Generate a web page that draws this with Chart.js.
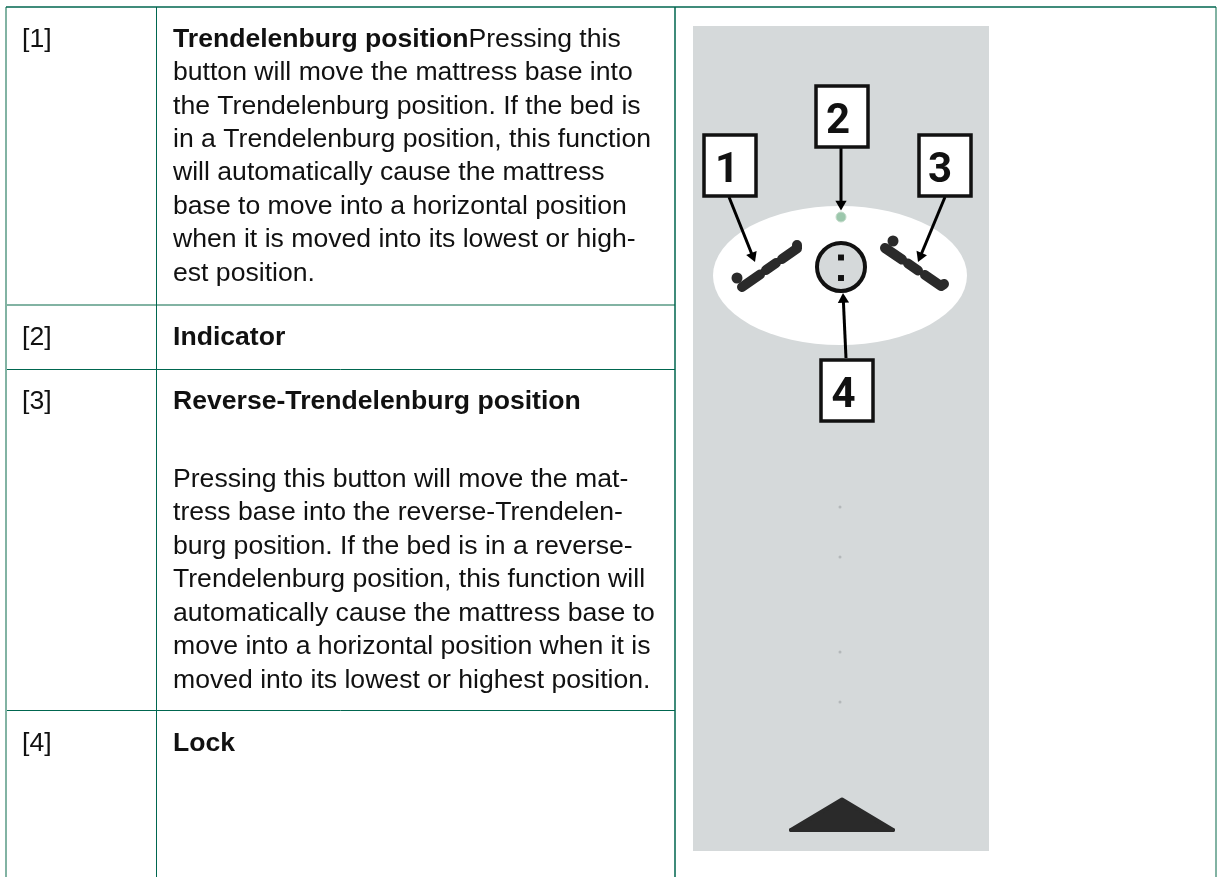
<!DOCTYPE html>
<html lang="en">

<head>
    <meta charset="UTF-8">
    <title>Trendelenburg controls</title>
    <script src="https://cdn.jsdelivr.net/npm/chart.js"></script>
    <style>
        html, body { margin: 0; background: #fff; overflow: hidden; }
        canvas { display: block; }
    </style>
</head>

<body>
    <canvas id="chart" width="1219" height="877"></canvas>

    <script>
        // table
        const colX = [6, 156.5, 675, 1216];
        const rowY = [7, 305, 369.5, 710.5, 877];
        const itemLabels = ['[1]', '[2]', '[3]', '[4]'];
        const itemBaselines = [47, 345, 409, 751];

        const headings = ['Trendelenburg position', 'Indicator', 'Reverse-Trendelenburg position', 'Lock'];
        const headingBaselines = [47, 345, 409, 751];

        const firstLineTail = 'Pressing this';
        const row1Lines = [
            'button will move the mattress base into',
            'the Trendelenburg position. If the bed is',
            'in a Trendelenburg position, this function',
            'will automatically cause the mattress',
            'base to move into a horizontal position',
            'when it is moved into its lowest or high-',
            'est position.'
        ];
        const row1Baselines = [80, 114, 147, 180, 214, 247, 281];
        const row3Lines = [
            'Pressing this button will move the mat-',
            'tress base into the reverse-Trendelen-',
            'burg position. If the bed is in a reverse-',
            'Trendelenburg position, this function will',
            'automatically cause the mattress base to',
            'move into a horizontal position when it is',
            'moved into its lowest or highest position.'
        ];
        const row3Baselines = [487, 520, 554, 587, 621, 654, 688];

        // panel picture
        const panelX = [693, 989];
        const panelY = [26, 851];
        const ellipseCentre = [840, 275.5];
        const ellipseRadii = [127, 69.5];
        const faintDots = [[840, 507], [840, 557], [840, 652], [840, 702]];
        const upTriangle = [[791, 830], [842, 799.5], [893, 830]];
        const indicatorDot = [[841, 217]];
        const lockCircle = [[841, 267]];
        const lockDots = [[841, 257.5], [841, 278]];

        const boxNumbers = ['1', '2', '3', '4'];
        const boxLeft = [704, 816, 919, 821];
        const boxTop = [135, 86, 135, 360];
        const digitX = [727, 838, 940, 843.5];
        const digitBaseline = [182, 133, 182, 407];
        const boxWidth = 52;
        const boxHeight = 61;

        const arrowPaths = [
            [[729, 197], [752.6, 256]],
            [[841, 148], [841, 204]],
            [[945, 197], [920.5, 256]],
            [[846, 358], [843.3, 299.5]]
        ];

        const bedHeads = [[737, 278], [893, 241]];
        const bedLeft = [[742, 287], [760, 274.5], null, [766, 270], [776, 263], null, [782, 259], [797, 248.5], [797, 245]];
        const bedRight = [[885, 248], [902, 259.5], null, [908, 263.5], [918, 270.5], null, [925, 275], [941, 286], [944, 284]];

        const GREEN = '#00664f';
        const GREEN_EDGE = '#82b3a3';
        const PANEL = '#d5d9da';
        const INK = '#111111';
        const ICON = '#2a2a2a';
        const FONT = '"Liberation Sans", Arial, sans-serif';

        const pts = list => list.map(p => p ? { x: p[0], y: p[1] } : { x: null, y: null });

        function rule(a, b, color, width) {
            return {
                data: pts([a, b]), showLine: true, borderColor: color, borderWidth: width,
                pointRadius: 0, order: 5
            };
        }

        function arrow(path) {
            const dx = path[1][0] - path[0][0];
            const dy = path[1][1] - path[0][1];
            return {
                data: pts(path), showLine: true, borderColor: '#000', borderWidth: 3,
                pointStyle: 'triangle', pointRadius: [0, 6.5], pointRotation: Math.atan2(dx, -dy) * 180 / Math.PI,
                pointBackgroundColor: '#000', pointBorderColor: '#000', pointBorderWidth: 0, order: 2
            };
        }

        function bed(path) {
            return {
                data: pts(path), showLine: true, borderColor: ICON, borderWidth: 10, borderCapStyle: 'round',
                borderJoinStyle: 'round', spanGaps: false, pointRadius: 0, order: 3
            };
        }

        const datasets = [
            rule([colX[0], rowY[0]], [colX[3], rowY[0]], GREEN, 1.5),
            rule([colX[0], rowY[0]], [colX[0], rowY[4]], GREEN_EDGE, 2),
            rule([colX[3], rowY[0]], [colX[3], rowY[4]], GREEN_EDGE, 2),
            rule([colX[1], rowY[0]], [colX[1], rowY[4]], GREEN, 1),
            rule([colX[2], rowY[0]], [colX[2], rowY[4]], GREEN, 1.5),
            rule([colX[0], rowY[1]], [colX[2], rowY[1]], GREEN_EDGE, 2),
            rule([colX[0], rowY[2]], [colX[2], rowY[2]], GREEN, 1),
            rule([colX[0], rowY[3]], [colX[2], rowY[3]], GREEN, 1),
            {
                data: pts(lockDots), pointStyle: 'rect', pointRadius: 4.2,
                pointBackgroundColor: '#111', pointBorderWidth: 0, order: 1
            },
            ...arrowPaths.map(arrow),
            {
                data: pts(lockCircle), pointRadius: 24, pointBackgroundColor: PANEL,
                pointBorderColor: '#111', pointBorderWidth: 4, order: 3
            },
            {
                data: pts(indicatorDot), pointRadius: 5, pointBackgroundColor: '#9cc7ac',
                pointBorderColor: '#c4dccb', pointBorderWidth: 1, order: 3
            },
            {
                data: pts(bedHeads), pointRadius: 5.5, pointBackgroundColor: ICON, pointBorderWidth: 0, order: 3
            },
            bed(bedLeft),
            bed(bedRight),
            {
                data: pts(faintDots), pointRadius: 1.5, pointBackgroundColor: '#b4b8ba', pointBorderWidth: 0, order: 4
            },
            // base of the triangle, the fill below stops at this line
            {
                data: pts([upTriangle[0], upTriangle[2]]), showLine: true, borderColor: ICON, borderWidth: 4,
                borderCapStyle: 'round', pointRadius: 0, order: 4
            },
            {
                data: pts(upTriangle), showLine: true, borderColor: ICON, borderWidth: 4,
                borderJoinStyle: 'round', borderCapStyle: 'round', backgroundColor: ICON,
                fill: { value: upTriangle[0][1] }, pointRadius: 0, order: 4
            }
        ];

        const picturePlugin = {
            id: 'picture',
            // gray panel and white ellipse go under the datasets
            beforeDatasetsDraw(chart) {
                const { ctx, scales: { x, y } } = chart;
                ctx.save();
                ctx.fillStyle = PANEL;
                ctx.fillRect(x.getPixelForValue(panelX[0]), y.getPixelForValue(panelY[0]),
                    panelX[1] - panelX[0], panelY[1] - panelY[0]);
                ctx.fillStyle = '#fff';
                ctx.beginPath();
                ctx.ellipse(x.getPixelForValue(ellipseCentre[0]), y.getPixelForValue(ellipseCentre[1]),
                    ellipseRadii[0], ellipseRadii[1], 0, 0, Math.PI * 2);
                ctx.fill();
                ctx.restore();
            },
            afterDatasetsDraw(chart) {
                const { ctx, scales: { x, y } } = chart;
                ctx.save();
                ctx.fillStyle = INK;
                ctx.textBaseline = 'alphabetic';

                const regular = '26.6px ' + FONT;
                const bold = 'bold 26.6px ' + FONT;
                const put = (text, px, py) => ctx.fillText(text, x.getPixelForValue(px), y.getPixelForValue(py));

                ctx.font = regular;
                itemLabels.forEach((t, i) => put(t, 22, itemBaselines[i]));
                row1Lines.forEach((t, i) => put(t, 173, row1Baselines[i]));
                row3Lines.forEach((t, i) => put(t, 173, row3Baselines[i]));

                ctx.font = bold;
                headings.forEach((t, i) => put(t, 173, headingBaselines[i]));
                const headWidth = ctx.measureText(headings[0]).width;
                ctx.font = regular;
                put(firstLineTail, 173 + headWidth, headingBaselines[0]);

                // numbered boxes sit on top of the arrow tails
                boxNumbers.forEach((n, i) => {
                    const bx = x.getPixelForValue(boxLeft[i]);
                    const by = y.getPixelForValue(boxTop[i]);
                    ctx.fillStyle = '#fff';
                    ctx.strokeStyle = '#111';
                    ctx.lineWidth = 3.5;
                    ctx.fillRect(bx, by, boxWidth, boxHeight);
                    ctx.strokeRect(bx, by, boxWidth, boxHeight);
                    ctx.fillStyle = '#111';
                    ctx.font = 'bold 42px Roboto, ' + FONT;
                    ctx.textAlign = 'center';
                    put(n, digitX[i], digitBaseline[i]);
                    ctx.textAlign = 'left';
                });
                ctx.restore();
            }
        };

        new Chart(document.getElementById('chart').getContext('2d'), {
            type: 'scatter',
            data: { datasets: datasets },
            plugins: [picturePlugin],
            options: {
                responsive: false,
                animation: false,
                layout: { padding: 0, autoPadding: false },
                plugins: { legend: { display: false }, tooltip: { enabled: false } },
                scales: {
                    x: { type: 'linear', display: false, min: 0, max: 1219 },
                    y: { type: 'linear', display: false, min: 0, max: 877, reverse: true }
                }
            }
        });
    </script>
</body>

</html>
